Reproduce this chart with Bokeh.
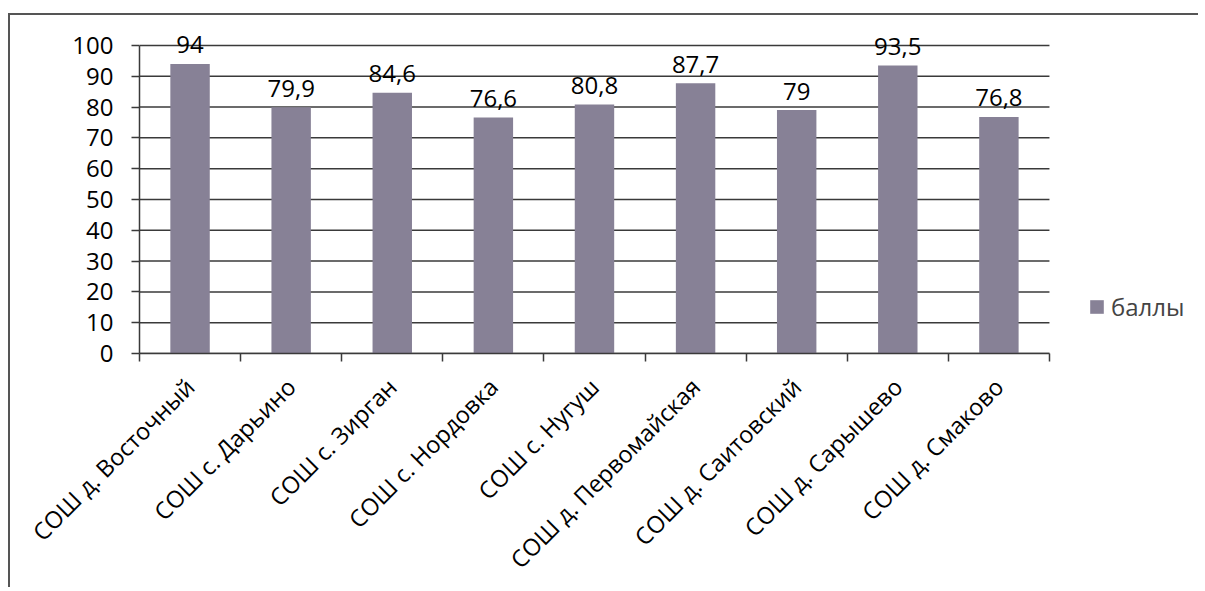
from bokeh.plotting import figure
from bokeh.models import (Range1d, LinearAxis, FixedTicker, Legend, LegendItem,
                          ColumnDataSource)
from bokeh.core.properties import value
from bokeh.embed import file_html
from bokeh.resources import INLINE
import math

# ---- data ----
schools = [
    "СОШ д. Восточный",
    "СОШ с. Дарьино",
    "СОШ с. Зирган",
    "СОШ с. Нордовка",
    "СОШ с. Нугуш",
    "СОШ д. Первомайская",
    "СОШ д. Саитовский",
    "СОШ д. Сарышево",
    "СОШ д. Смаково",
]
scores = [94, 79.9, 84.6, 76.6, 80.8, 87.7, 79, 93.5, 76.8]
series_name = "баллы"
y_ticks = [0, 10, 20, 30, 40, 50, 60, 70, 80, 90, 100]


def fmt(v):
    s = ("%g" % v)
    return s.replace(".", ",")


n = len(schools)
xs = [i + 0.5 for i in range(n)]
labels = [fmt(v) for v in scores]
y_max = y_ticks[-1]

FONT = "Open Sans"
FS = "24px"
BAR = "#878196"
DARK = "#3a3a3a"

src = ColumnDataSource(dict(x=xs, top=scores, lab=labels))
grid_src = ColumnDataSource(dict(x0=[0] * len(y_ticks), x1=[n] * len(y_ticks), y=y_ticks))

p = figure(
    width=1190, height=574,
    x_range=Range1d(0, n * 1.1605),
    y_range=Range1d(0, y_max * 1.0906),
    output_backend="svg", toolbar_location=None,
    x_axis_type=None, y_axis_type=None,
    min_border_left=129, min_border_top=2, min_border_right=5, min_border_bottom=235,
    styles={"margin-top": "13px", "margin-left": "8px",
            "border-top": "2px solid #555", "border-left": "2px solid #555"},
)
p.outline_line_color = None
p.background_fill_color = "white"
p.border_fill_color = "white"
p.xgrid.grid_line_color = None
p.ygrid.grid_line_color = None

# horizontal grid lines spanning the category area only
p.segment(x0="x0", x1="x1", y0="y", y1="y", source=grid_src,
          line_color=DARK, line_width=1.5)

bars = p.vbar(x="x", top="top", width=0.39, source=src, fill_color=BAR, line_color=None)

# value labels
p.text(x="x", y="top", text="lab", source=src, text_align="center",
       text_baseline="alphabetic", y_offset=-19,
       text_font=value(FONT), text_font_size=value(FS), text_color="black")

# y axis
yax = LinearAxis(ticker=FixedTicker(ticks=y_ticks, minor_ticks=[]), bounds=(0, y_max))
yax.axis_line_color = DARK
yax.axis_line_width = 1.5
yax.major_tick_line_color = DARK
yax.major_tick_line_width = 1.5
yax.major_tick_out = 8
yax.major_tick_in = 0
yax.major_label_standoff = 18
yax.major_label_text_font = FONT
yax.major_label_text_font_size = FS
yax.major_label_text_color = "black"
p.add_layout(yax, "left")

# x axis: labels at category centres, ticks at category boundaries
xax = LinearAxis(ticker=FixedTicker(ticks=xs, minor_ticks=list(range(n + 1))), bounds=(0, n))
xax.major_label_overrides = {x: s for x, s in zip(xs, schools)}
xax.major_label_orientation = math.pi / 4
xax.axis_line_color = DARK
xax.axis_line_width = 1.5
xax.major_tick_line_color = None
xax.major_tick_out = 0
xax.major_tick_in = 0
xax.minor_tick_line_color = DARK
xax.minor_tick_line_width = 1.5
xax.minor_tick_out = 8
xax.minor_tick_in = 0
xax.major_label_standoff = 21
xax.major_label_text_font = FONT
xax.major_label_text_font_size = "23.5px"
xax.major_label_text_color = "black"
p.add_layout(xax, "below")

legend = Legend(
    items=[LegendItem(label=series_name, renderers=[bars])],
    location=(949, 30),
    label_text_font=FONT, label_text_font_size=FS,
    glyph_width=17, glyph_height=17, label_standoff=6,
    padding=0, margin=0, spacing=0,
    border_line_color=None, background_fill_alpha=0,
)
p.add_layout(legend)

open("out.html", "w").write(file_html(p, INLINE))
